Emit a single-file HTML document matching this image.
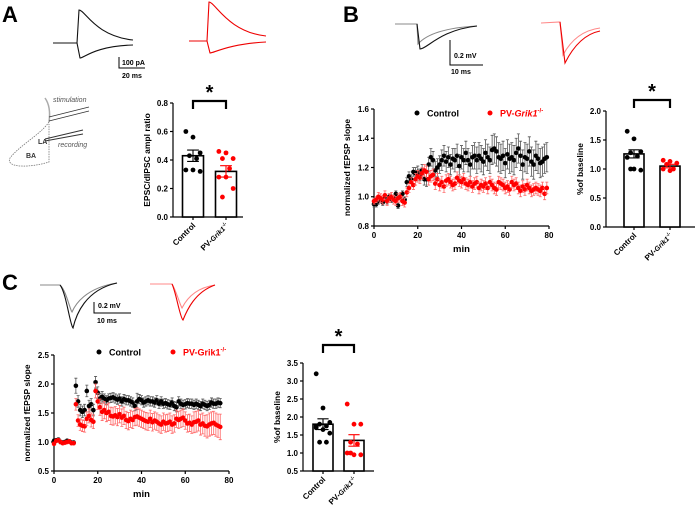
<!DOCTYPE html>
<html><head><meta charset="utf-8"><style>
html,body{margin:0;padding:0;background:#fff}
svg{display:block;font-family:"Liberation Sans",sans-serif}
</style></head><body>
<svg id="fig" width="700" height="518" viewBox="0 0 700 518" xmlns="http://www.w3.org/2000/svg">
<g font-weight="bold" font-size="22">
<text x="2" y="22">A</text>
<text x="343" y="22">B</text>
<text x="2" y="290">C</text>
</g>
<!-- A traces -->
<g fill="none" stroke-width="1.1">
<path d="M53,43 L77,43 L79,10 C85,10 95,36 133,40" stroke="#111"/>
<path d="M77,43 L80,58 C84,58 95,46 133,45" stroke="#111"/>
<path d="M189,41 L207,41 L209,2 C215,2 228,32 266,36" stroke="#e00"/>
<path d="M207,41 L210,53 C214,53 228,44 266,42" stroke="#e00"/>
<path d="M119,57 L119,68 L145,68" stroke="#000" stroke-width="1"/>
</g>
<text x="122" y="65" font-size="7" font-weight="bold">100 pA</text>
<text x="122" y="78" font-size="7" font-weight="bold">20 ms</text>
<!-- schematic -->
<g fill="none">
<path d="M45,98 C50,105 50,115 49,122" stroke="#aaa" stroke-width="1.5"/>
<path d="M49,122 C40,135 20,145 10,158 C5,168 30,168 49,162 L49,124" stroke="#777" stroke-width="0.8" stroke-dasharray="1.5,1"/>
<path d="M49,117 L89,107 M49,121 L89,111 M45,139 L83,130 M45,141 L83,134" stroke="#333" stroke-width="0.9"/>
</g>
<g font-size="7" fill="#555">
<text x="53" y="102" font-style="italic">stimulation</text>
<text x="58" y="147" font-style="italic">recording</text>
<text x="38" y="144" font-weight="bold" fill="#333">LA</text>
<text x="26" y="158" font-weight="bold" fill="#333">BA</text>
</g>
<!-- B traces -->
<g fill="none" stroke-width="1.1">
<path d="M395,24 L417,24 L418,44 C425,36 440,28 477,26" stroke="#888"/>
<path d="M417,24 L420,49 C427,49 440,30 477,26" stroke="#111"/>
<path d="M541,23 L560,22 L563,55 C572,38 585,30 600,28" stroke="#f88"/>
<path d="M560,22 L565,63 C574,45 585,34 600,31" stroke="#e00"/>
<path d="M450,40 L450,65 L483,65" stroke="#000" stroke-width="1"/>
</g>
<text x="454" y="58" font-size="7" font-weight="bold">0.2 mV</text>
<text x="451" y="74" font-size="7" font-weight="bold">10 ms</text>
<!-- C traces -->
<g fill="none" stroke-width="1.1">
<path d="M40,285 L60,285 C66,290 70,310 72,312 C75,305 85,288 117,283" stroke="#888"/>
<path d="M60,285 C66,292 70,325 73,328 C76,315 85,290 117,283" stroke="#111"/>
<path d="M150,284 L172,284 C176,290 180,305 182,308 C186,300 195,288 215,285" stroke="#f88"/>
<path d="M172,284 C176,292 180,318 183,320 C187,310 195,292 215,285" stroke="#e00"/>
<path d="M94,302 L94,313 L131,313" stroke="#000" stroke-width="1"/>
</g>
<text x="98" y="308" font-size="7" font-weight="bold">0.2 mV</text>
<text x="97" y="323" font-size="7" font-weight="bold">10 ms</text>
</svg>
<script>
// ---- data ----
const groupLabels = ["Control", "PV-Grik1"];
const aCtrlPts = [0.60,0.56,0.45,0.43,0.41,0.33,0.33,0.32];
const aPvPts = [0.46,0.45,0.41,0.41,0.34,0.28,0.28,0.20,0.14];
const aMeans = [0.43,0.32];
const aSems = [0.04,0.04];
const aTicks = [0.0,0.2,0.4,0.6,0.8];

const bCtrl = [0.95,0.95,0.97,0.98,0.96,0.99,0.97,1.0,0.98,0.99,1.02,0.94,1.0,1.02,0.98,1.1,1.14,1.12,1.17,1.16,1.17,1.15,1.18,1.12,1.12,1.22,1.27,1.25,1.18,1.2,1.22,1.25,1.28,1.24,1.27,1.22,1.26,1.25,1.28,1.21,1.27,1.25,1.3,1.25,1.22,1.27,1.28,1.25,1.28,1.26,1.24,1.3,1.27,1.25,1.32,1.33,1.31,1.27,1.26,1.28,1.23,1.29,1.26,1.27,1.25,1.3,1.33,1.28,1.22,1.27,1.26,1.31,1.24,1.22,1.28,1.26,1.23,1.24,1.26,1.27];
const bCtrlErr = [0.02,0.02,0.02,0.02,0.02,0.02,0.02,0.02,0.02,0.02,0.02,0.02,0.02,0.02,0.02,0.03,0.03,0.03,0.03,0.04,0.04,0.04,0.04,0.04,0.05,0.05,0.06,0.06,0.06,0.06,0.06,0.07,0.07,0.07,0.07,0.07,0.07,0.08,0.08,0.08,0.08,0.08,0.08,0.08,0.08,0.08,0.09,0.09,0.09,0.09,0.09,0.09,0.09,0.09,0.1,0.1,0.1,0.1,0.1,0.1,0.1,0.1,0.1,0.1,0.1,0.1,0.1,0.1,0.1,0.1,0.1,0.1,0.1,0.1,0.1,0.1,0.1,0.1,0.1,0.1];
const bPv = [0.97,0.98,1.0,0.99,0.98,1.01,0.97,0.99,1.0,0.98,0.97,0.99,1.0,0.97,0.96,1.03,1.06,1.1,1.08,1.12,1.14,1.13,1.16,1.18,1.17,1.12,1.14,1.15,1.09,1.12,1.08,1.1,1.07,1.11,1.12,1.1,1.08,1.09,1.13,1.11,1.1,1.12,1.09,1.08,1.1,1.07,1.09,1.1,1.06,1.08,1.07,1.09,1.06,1.1,1.08,1.06,1.05,1.1,1.09,1.08,1.06,1.07,1.05,1.1,1.08,1.09,1.06,1.04,1.07,1.05,1.08,1.06,1.04,1.05,1.06,1.05,1.04,1.06,1.02,1.06];
const bPvErr = [0.02,0.02,0.03,0.03,0.03,0.03,0.03,0.03,0.03,0.03,0.03,0.03,0.03,0.03,0.03,0.03,0.03,0.03,0.03,0.04,0.04,0.04,0.04,0.04,0.04,0.04,0.04,0.04,0.04,0.04,0.04,0.04,0.04,0.04,0.04,0.04,0.04,0.04,0.04,0.04,0.04,0.04,0.04,0.04,0.04,0.04,0.04,0.04,0.04,0.04,0.04,0.04,0.04,0.04,0.04,0.04,0.04,0.04,0.04,0.04,0.04,0.04,0.04,0.04,0.04,0.04,0.04,0.04,0.04,0.04,0.04,0.04,0.04,0.04,0.04,0.04,0.04,0.04,0.04,0.04];
const bYTicks = [0.8,1.0,1.2,1.4,1.6];
const bXTicks = [0,20,40,60,80];
const bBarCtrlPts = [1.65,1.52,1.3,1.28,1.22,1.2,1.0,0.98,1.0];
const bBarPvPts = [1.15,1.13,1.1,1.08,1.0,1.0,0.97];
const bBarMeans = [1.26,1.05];
const bBarSems = [0.07,0.03];
const bBarTicks = [0.0,0.5,1.0,1.5,2.0];

const cCtrl = [1.02,1.03,1.04,1.0,0.99,1.0,1.02,1.01,0.99,0.99,1.97,1.7,1.55,1.52,1.55,1.88,1.62,1.65,1.55,2.03,1.85,1.75,1.78,1.75,1.72,1.75,1.76,1.77,1.75,1.73,1.75,1.7,1.74,1.72,1.72,1.7,1.68,1.62,1.7,1.74,1.72,1.68,1.7,1.72,1.7,1.7,1.68,1.72,1.66,1.7,1.66,1.67,1.65,1.64,1.68,1.62,1.6,1.7,1.66,1.64,1.65,1.67,1.66,1.66,1.64,1.66,1.64,1.62,1.66,1.64,1.62,1.64,1.68,1.66,1.66,1.68,1.67];
const cCtrlErr = [0.03,0.03,0.03,0.03,0.03,0.03,0.03,0.03,0.03,0.03,0.13,0.1,0.1,0.1,0.1,0.1,0.1,0.1,0.1,0.1,0.1,0.09,0.09,0.08,0.08,0.08,0.08,0.08,0.08,0.08,0.08,0.08,0.08,0.08,0.08,0.08,0.08,0.08,0.14,0.08,0.08,0.08,0.08,0.08,0.08,0.08,0.08,0.08,0.08,0.08,0.08,0.08,0.08,0.08,0.08,0.08,0.08,0.08,0.08,0.08,0.08,0.08,0.08,0.08,0.08,0.08,0.08,0.08,0.08,0.08,0.08,0.08,0.08,0.08,0.08,0.08,0.08];
const cPv = [0.97,1.02,1.03,1.0,0.98,0.99,1.0,1.01,0.98,0.98,1.65,1.37,1.3,1.28,1.27,1.4,1.45,1.38,1.35,1.88,1.7,1.6,1.52,1.55,1.5,1.52,1.45,1.44,1.46,1.43,1.48,1.42,1.45,1.38,1.36,1.4,1.38,1.43,1.44,1.42,1.4,1.38,1.36,1.35,1.4,1.34,1.37,1.35,1.32,1.3,1.35,1.32,1.33,1.35,1.3,1.32,1.4,1.38,1.4,1.42,1.37,1.32,1.33,1.3,1.34,1.35,1.37,1.3,1.32,1.28,1.27,1.3,1.32,1.33,1.3,1.28,1.26];
const cPvErr = [0.03,0.03,0.03,0.03,0.03,0.03,0.03,0.03,0.03,0.03,0.1,0.1,0.1,0.1,0.1,0.12,0.12,0.12,0.12,0.12,0.14,0.14,0.15,0.15,0.15,0.15,0.15,0.15,0.15,0.15,0.15,0.15,0.15,0.15,0.15,0.15,0.15,0.15,0.15,0.15,0.15,0.15,0.15,0.15,0.15,0.15,0.15,0.15,0.15,0.15,0.15,0.15,0.15,0.15,0.15,0.15,0.15,0.15,0.15,0.15,0.15,0.15,0.15,0.15,0.18,0.18,0.18,0.18,0.18,0.18,0.2,0.2,0.2,0.2,0.2,0.2,0.22];
const cYTicks = [0.5,1.0,1.5,2.0,2.5];
const cXTicks = [0,20,40,60,80];
const cBarCtrlPts = [3.2,2.25,1.85,1.8,1.75,1.7,1.65,1.55,1.3,1.3,1.75];
const cBarPvPts = [2.36,1.8,1.8,1.3,1.25,1.0,0.95,0.95,1.0];
const cBarMeans = [1.8,1.35];
const cBarSems = [0.15,0.16];
const cBarTicks = [0.5,1.0,1.5,2.0,2.5,3.0,3.5];

// ---- drawing ----
const NS = "http://www.w3.org/2000/svg";
const fig = document.getElementById('fig');
function mk(tag, attrs, parent, txt){
  const e = document.createElementNS(NS, tag);
  for (const k in attrs) e.setAttribute(k, attrs[k]);
  if (txt !== undefined) e.textContent = txt;
  (parent || fig).appendChild(e);
  return e;
}
function lin(d0,d1,r0,r1){ return v => r0 + (v-d0)/(d1-d0)*(r1-r0); }
const RED = "#f00";

function yAxis(g, x, ys, ticks, top, bottom, fmt){
  const ax = mk('line',{x1:x,y1:top,x2:x,y2:bottom,stroke:'#000','stroke-width':1.2},g);
  
  
  ticks.forEach(t=>{
    mk('line',{x1:x-3,y1:ys(t),x2:x,y2:ys(t),stroke:'#000','stroke-width':1.2},g);
    const l = mk('text',{x:x-5,y:ys(t)+2.8,'text-anchor':'end','font-size':8,'font-weight':'bold'},g,t.toFixed(fmt));
    
    
  });
}
function yTitle(g, x, y, txt){
  const t = mk('text',{x:x,y:y,'text-anchor':'middle','font-size':8.5,'font-weight':'bold',transform:`rotate(-90 ${x} ${y})`},g,txt);
  
  
}

function timeCourse(cfg){
  const g = mk('g',{});
  
  
  const xs = lin(0,80,cfg.x0,cfg.x1), ys = lin(cfg.yd[0],cfg.yd[1],cfg.y0,cfg.y1);
  yAxis(g, cfg.x0, ys, cfg.yt, cfg.y1, cfg.y0, 1);
  const xa = mk('line',{x1:cfg.x0,y1:cfg.y0,x2:cfg.x1,y2:cfg.y0,stroke:'#000','stroke-width':1.2},g);
  
  
  cfg.xt.forEach(t=>{
    mk('line',{x1:xs(t),y1:cfg.y0,x2:xs(t),y2:cfg.y0+3,stroke:'#000','stroke-width':1.2},g);
    const l = mk('text',{x:xs(t),y:cfg.y0+12,'text-anchor':'middle','font-size':8,'font-weight':'bold'},g,String(t));
    
    
  });
  const mt = mk('text',{x:(cfg.x0+cfg.x1)/2,y:cfg.y0+26,'text-anchor':'middle','font-size':9.5,'font-weight':'bold'},g,'min');
  
  
  yTitle(g, cfg.x0-24, (cfg.y0+cfg.y1)/2, 'normalized fEPSP slope');
  [[cfg.c,cfg.ce,'#000','#555','control'],[cfg.p,cfg.pe,RED,'#f66','pv-grik1']].forEach(([vals,errs,col,ecol,nm])=>{
    const sg = mk('g',{},g);
    
    
    vals.forEach((v,i)=>{
      const x = xs(i), e = errs[i];
      mk('path',{d:`M${x},${ys(v-e)}V${ys(v+e)}M${x-1.5},${ys(v-e)}h3M${x-1.5},${ys(v+e)}h3`,stroke:ecol,'stroke-width':0.8,fill:'none'},sg);
      const c = mk('circle',{cx:x,cy:ys(v),r:2.3,fill:col},sg);
      
      
    });
  });
  const lg = mk('g',{'font-size':9,'font-weight':'bold'},g);
  
  
  mk('circle',{cx:cfg.lx1,cy:cfg.ly,r:2.5,fill:'#000'},lg);
  mk('text',{x:cfg.lx1+10,y:cfg.ly+3.5},lg,'Control');
  mk('circle',{cx:cfg.lx2,cy:cfg.ly,r:2.5,fill:RED},lg);
  const pt = mk('text',{x:cfg.lx2+10,y:cfg.ly+3.5,fill:RED},lg);
  if (cfg.italic){
    mk('tspan',{},pt,'PV-');
    mk('tspan',{'font-style':'italic'},pt,'Grik1');
  } else mk('tspan',{},pt,'PV-Grik1');
  mk('tspan',{dy:-4,'font-size':6},pt,'-/-');
}

function barChart(cfg){
  const g = mk('g',{});
  
  
  const ys = lin(cfg.yd[0],cfg.yd[1],cfg.y0,cfg.y1);
  yAxis(g, cfg.x0, ys, cfg.yt, cfg.y1, cfg.y0, 1);
  const xa = mk('line',{x1:cfg.x0,y1:cfg.y0,x2:cfg.xe,y2:cfg.y0,stroke:'#000','stroke-width':1.2},g);
  
  
  yTitle(g, cfg.x0-23, (cfg.y0+cfg.y1)/2, cfg.title);
  const cols = ['#000',RED];
  [cfg.cp,cfg.pp].forEach((pts,gi)=>{
    const cx = cfg.cx[gi], w = cfg.w, m = cfg.means[gi], s = cfg.sems[gi];
    const b = mk('rect',{x:cx-w/2,y:ys(m),width:w,height:cfg.y0-ys(m),fill:'#fff',stroke:'#000','stroke-width':1.6},g);
    
    
    pts.forEach((v,i)=>{
      const off = ((i*7)%5-2)*w*0.17;
      const d = mk('circle',{cx:cx+off,cy:ys(v),r:2.4,fill:cols[gi]},g);
      
      
    });
    mk('path',{d:`M${cx},${ys(m)}V${ys(m+s)}M${cx-w*0.28},${ys(m+s)}h${w*0.56}M${cx-w*0.28},${ys(m-s)}h${w*0.56}M${cx},${ys(m)}V${ys(m-s)}`,stroke:cols[gi],'stroke-width':1.1,fill:'none'},g);
    mk('line',{x1:cx,y1:cfg.y0,x2:cx,y2:cfg.y0+3,stroke:'#000','stroke-width':1.2},g);
    const lx = cx+3, ly = cfg.y0+9;
    const t = mk('text',{x:lx,y:ly,'text-anchor':'end','font-size':8,'font-weight':'bold',transform:`rotate(-45 ${lx} ${ly})`},g);
    
    
    if (gi===0) t.textContent = groupLabels[0];
    else { mk('tspan',{},t,'PV-'); mk('tspan',{'font-style':'italic','font-size':7},t,'Grik1'); mk('tspan',{dy:-3,'font-size':5},t,'-/-'); }
  });
  const br = mk('path',{d:`M${cfg.cx[0]},${cfg.by+8}V${cfg.by}H${cfg.cx[1]}V${cfg.by+8}`,stroke:'#000','stroke-width':2.2,fill:'none'},g);
  
  
  const st = mk('text',{x:(cfg.cx[0]+cfg.cx[1])/2,y:cfg.by-2,'text-anchor':'middle','font-size':20,'font-weight':'bold'},g,'*');
  
  
}

barChart({name:'panel-a-bar-chart',x0:173,xe:243,y0:217,y1:103,yd:[0,0.8],yt:aTicks,cx:[193,226],w:21,cp:aCtrlPts,pp:aPvPts,means:aMeans,sems:aSems,by:101,title:'EPSC/dIPSC ampl ratio'});
timeCourse({name:'panel-b-time-course',x0:374,x1:549,y0:226,y1:109,yd:[0.8,1.6],yt:bYTicks,xt:bXTicks,c:bCtrl,ce:bCtrlErr,p:bPv,pe:bPvErr,lx1:417,lx2:490,ly:113,italic:true});
barChart({name:'panel-b-bar-chart',x0:606,xe:695,y0:227,y1:111,yd:[0,2.0],yt:bBarTicks,cx:[634,670],w:20,cp:bBarCtrlPts,pp:bBarPvPts,means:bBarMeans,sems:bBarSems,by:100,title:'%of baseline'});
timeCourse({name:'panel-c-time-course',x0:54,x1:229,y0:471,y1:355,yd:[0.5,2.5],yt:cYTicks,xt:cXTicks,c:cCtrl,ce:cCtrlErr,p:cPv,pe:cPvErr,lx1:99,lx2:173,ly:352,italic:false});
barChart({name:'panel-c-bar-chart',x0:303,xe:374,y0:471,y1:363,yd:[0.5,3.5],yt:cBarTicks,cx:[323,354],w:20,cp:cBarCtrlPts,pp:cBarPvPts,means:cBarMeans,sems:cBarSems,by:345,title:'%of baseline'});
</script>
</body></html>
